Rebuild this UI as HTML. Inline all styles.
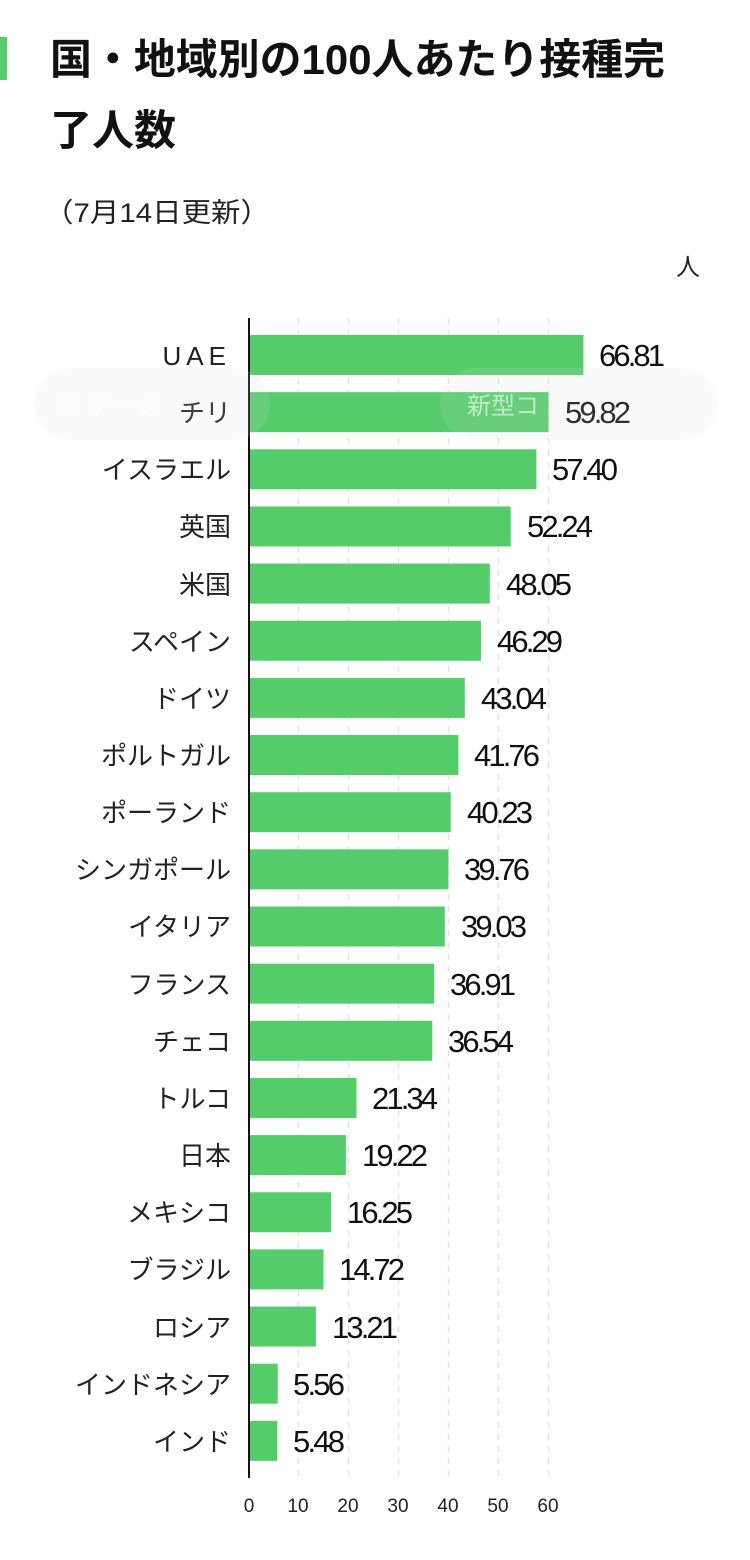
<!DOCTYPE html>
<html><head><meta charset="utf-8"><style>
body{margin:0;background:#fff;width:750px;height:1555px;overflow:hidden}
svg text{font-family:"Liberation Sans","Noto Sans CJK JP",sans-serif}
</style></head><body>
<svg width="750" height="1555" viewBox="0 0 750 1555" xmlns="http://www.w3.org/2000/svg">
<rect x="0" y="37" width="7" height="43" fill="#55cc6a"/>
<text x="50" y="74" font-size="42" font-weight="bold" fill="#111" textLength="615" lengthAdjust="spacingAndGlyphs">国・地域別の100人あたり接種完</text>
<text x="50" y="145" font-size="42" font-weight="bold" fill="#111">了人数</text>
<text x="44" y="222" font-size="27" fill="#222" textLength="226" lengthAdjust="spacingAndGlyphs">（7月14日更新）</text>
<text x="700" y="275" font-size="24" fill="#222" text-anchor="end">人</text>
<g stroke="#e2e2e2" stroke-width="1.5" stroke-dasharray="6,6">
<line x1="298.5" y1="318" x2="298.5" y2="1478"/><line x1="348.5" y1="318" x2="348.5" y2="1478"/>
<line x1="398.5" y1="318" x2="398.5" y2="1478"/><line x1="448.5" y1="318" x2="448.5" y2="1478"/>
<line x1="498.5" y1="318" x2="498.5" y2="1478"/><line x1="548.5" y1="318" x2="548.5" y2="1478"/>
</g>
<g fill="#55cc6a">
<rect x="250" y="335" width="333.4" height="40"/>
<rect x="250" y="392.15" width="298.5" height="40"/>
<rect x="250" y="449.3" width="286.4" height="40"/>
<rect x="250" y="506.45" width="260.7" height="40"/>
<rect x="250" y="563.6" width="239.8" height="40"/>
<rect x="250" y="620.75" width="231" height="40"/>
<rect x="250" y="677.9" width="214.8" height="40"/>
<rect x="250" y="735.05" width="208.4" height="40"/>
<rect x="250" y="792.2" width="200.7" height="40"/>
<rect x="250" y="849.35" width="198.4" height="40"/>
<rect x="250" y="906.5" width="194.8" height="40"/>
<rect x="250" y="963.65" width="184.2" height="40"/>
<rect x="250" y="1020.8" width="182.3" height="40"/>
<rect x="250" y="1077.95" width="106.5" height="40"/>
<rect x="250" y="1135.1" width="95.9" height="40"/>
<rect x="250" y="1192.25" width="81.1" height="40"/>
<rect x="250" y="1249.4" width="73.5" height="40"/>
<rect x="250" y="1306.55" width="65.9" height="40"/>
<rect x="250" y="1363.7" width="27.7" height="40"/>
<rect x="250" y="1420.85" width="27.3" height="40"/>
</g>
<g font-size="26" fill="#222" text-anchor="end">
<text x="231" y="365" letter-spacing="5">UAE</text>
<text x="231" y="422">チリ</text>
<text x="231" y="479">イスラエル</text>
<text x="231" y="536">英国</text>
<text x="231" y="594">米国</text>
<text x="231" y="651">スペイン</text>
<text x="231" y="708">ドイツ</text>
<text x="231" y="765">ポルトガル</text>
<text x="231" y="822">ポーランド</text>
<text x="231" y="879">シンガポール</text>
<text x="231" y="936">イタリア</text>
<text x="231" y="994">フランス</text>
<text x="231" y="1051">チェコ</text>
<text x="231" y="1108">トルコ</text>
<text x="231" y="1165">日本</text>
<text x="231" y="1222">メキシコ</text>
<text x="231" y="1279">ブラジル</text>
<text x="231" y="1337">ロシア</text>
<text x="231" y="1394">インドネシア</text>
<text x="231" y="1451">インド</text>
</g>
<g font-size="31" fill="#111" lengthAdjust="spacingAndGlyphs">
<text x="599" y="366" textLength="66">66.81</text>
<text x="565" y="423" textLength="66">59.82</text>
<text x="552" y="480" textLength="66">57.40</text>
<text x="527" y="537" textLength="66">52.24</text>
<text x="506" y="595" textLength="66">48.05</text>
<text x="497" y="652" textLength="66">46.29</text>
<text x="481" y="709" textLength="66">43.04</text>
<text x="474" y="766" textLength="66">41.76</text>
<text x="467" y="823" textLength="66">40.23</text>
<text x="464" y="880" textLength="66">39.76</text>
<text x="461" y="937" textLength="66">39.03</text>
<text x="450" y="995" textLength="66">36.91</text>
<text x="448" y="1052" textLength="66">36.54</text>
<text x="372" y="1109" textLength="66">21.34</text>
<text x="362" y="1166" textLength="66">19.22</text>
<text x="347" y="1223" textLength="66">16.25</text>
<text x="339" y="1280" textLength="66">14.72</text>
<text x="332" y="1338" textLength="66">13.21</text>
<text x="293" y="1395" textLength="52">5.56</text>
<text x="293" y="1452" textLength="52">5.48</text>
</g>
<line x1="249" y1="318" x2="249" y2="1478" stroke="#111" stroke-width="2"/>
<g font-size="19" fill="#222" text-anchor="middle">
<text x="249" y="1512">0</text><text x="298" y="1512">10</text><text x="348" y="1512">20</text><text x="398" y="1512">30</text><text x="448" y="1512">40</text><text x="498" y="1512">50</text><text x="548" y="1512">60</text>
</g>
<g opacity="0.15">
<rect x="35" y="368" width="235" height="72" rx="36" fill="#dddddd"/>
<rect x="440" y="368" width="277" height="72" rx="36" fill="#dddddd"/>
</g>
<text x="60" y="414" font-size="24" fill="#fff" opacity="0.6">☰ データ</text>
<text x="467" y="414" font-size="24" fill="#fff" opacity="0.6">新型コ</text>
</svg>
</body></html>
